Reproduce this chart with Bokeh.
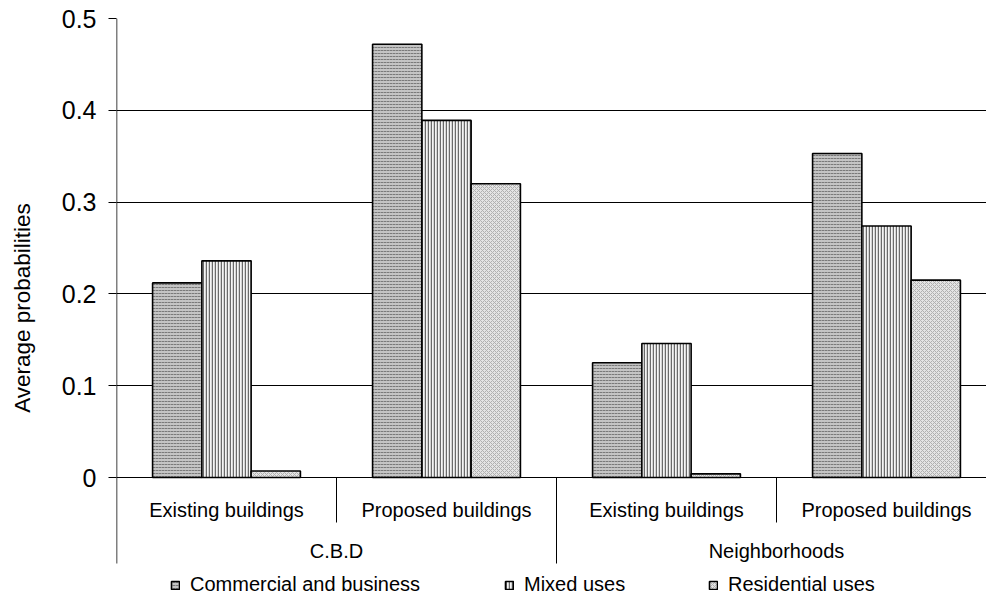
from bokeh.plotting import figure
from bokeh.models import FixedTicker, Legend, LegendItem, ColumnDataSource, Range1d
from bokeh.core.properties import value
from bokeh.embed import file_html
from bokeh.resources import INLINE

# ---- data ----
groups = ["C.B.D", "Neighborhoods"]
subgroups = ["Existing buildings", "Proposed buildings"]
series = ["Commercial and business", "Mixed uses", "Residential uses"]
commercial = [0.212, 0.472, 0.125, 0.353]
mixed = [0.236, 0.389, 0.146, 0.274]
residential = [0.007, 0.320, 0.004, 0.215]
y_ticks = [0, 0.1, 0.2, 0.3, 0.4, 0.5]
y_tick_labels = ["0", "0.1", "0.2", "0.3", "0.4", "0.5"]

FONT = "Liberation Sans"

# ---- layout ----
PX_X = 220.0   # px per category
PX_Y = 918.0   # px per unit of probability
W, H = 986, 597
LEFT, TOP = 116, 18
x_end = (W - LEFT) / PX_X
y_start = 0.5 - (H - TOP) / PX_Y

p = figure(width=W, height=H, x_range=Range1d(0, x_end), y_range=Range1d(y_start, 0.5),
           output_backend="svg", toolbar_location=None, x_axis_location=None,
           min_border_left=LEFT, min_border_top=TOP, min_border_right=0, min_border_bottom=0)
p.outline_line_color = None
p.xgrid.visible = False
p.ygrid.grid_line_color = "black"
p.ygrid.grid_line_width = 1

ax = p.yaxis[0]
ax.ticker = FixedTicker(ticks=y_ticks)
ax.major_label_overrides = {t: l for t, l in zip(y_ticks, y_tick_labels)}
ax.axis_line_color = None
ax.major_tick_out = 8
ax.major_tick_in = 0
ax.major_tick_line_color = "black"
ax.minor_tick_line_color = None
ax.major_label_text_font = FONT
ax.major_label_text_font_size = "25px"
ax.major_label_text_color = "black"
ax.major_label_standoff = 12
ax.axis_label = "Average probabilities"
ax.axis_label_text_font = FONT
ax.axis_label_text_font_size = "22.5px"
ax.axis_label_text_font_style = "normal"
ax.axis_label_text_color = "black"
ax.axis_label_standoff = 24

n = len(commercial)
centers = [i + 0.5 for i in range(n)]
bw = 0.224
styles = [
    dict(fill_color="#c4c4c4", hatch_pattern="horizontal_dash", hatch_color="#7a7a7a", hatch_scale=3, hatch_weight=1),
    dict(fill_color="#f4f4f4", hatch_pattern="vertical_line", hatch_color="#6a6a6a", hatch_scale=3, hatch_weight=1.5),
    dict(fill_color="#e4e4e4", hatch_pattern="diagonal_cross", hatch_color="#b0b0b0", hatch_scale=4, hatch_weight=1),
]
renderers = []
for k, vals in enumerate([commercial, mixed, residential]):
    src = ColumnDataSource(dict(x=[c + (k - 1) * bw for c in centers], top=vals))
    r = p.vbar(x="x", top="top", bottom=0, width=bw, source=src,
               line_color="black", line_width=1.6, **styles[k])
    renderers.append(r)

# category axis drawn below zero
sub_y = -32 / PX_Y
grp_y = -73 / PX_Y
sep_short = -45 / PX_Y
sep_long = -86 / PX_Y
p.segment(x0=[0], y0=[sep_long], x1=[0], y1=[0.5], line_color="black", line_width=1.5)
p.segment(x0=[1, 3], y0=[0, 0], x1=[1, 3], y1=[sep_short, sep_short], line_color="black", line_width=1)
p.segment(x0=[2], y0=[0], x1=[2], y1=[sep_long], line_color="black", line_width=1)

p.text(x=centers, y=[sub_y] * n, text=subgroups * len(groups), text_align="center",
       text_baseline="middle", text_font=value(FONT), text_font_size="20px", text_color="black")
p.text(x=[1, 3], y=[grp_y] * 2, text=groups, text_align="center",
       text_baseline="middle", text_font=value(FONT), text_font_size="20px", text_color="black")

for i, (r, lx) in enumerate(zip(renderers, [54, 388, 592])):
    lg = Legend(items=[LegendItem(label=series[i], renderers=[r])], location=(lx, 1),
                orientation="horizontal", padding=0, margin=0, border_line_color=None,
                background_fill_alpha=0, glyph_width=10, glyph_height=10, label_standoff=10,
                label_text_font=FONT, label_text_font_size="20px", label_text_color="black",
                label_height=14, spacing=0)
    p.add_layout(lg)

open("out.html", "w").write(file_html(p, INLINE))
